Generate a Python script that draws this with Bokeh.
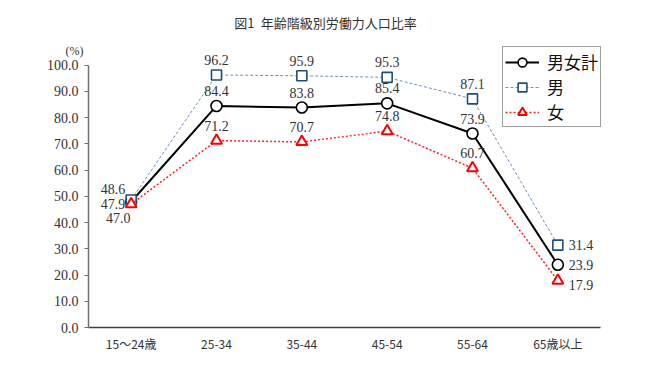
from bokeh.plotting import figure
from bokeh.models import (Range1d, FixedTicker, NumeralTickFormatter, Legend, LegendItem,
                          Label, ColumnDataSource)
from bokeh.core.properties import value
from bokeh.embed import file_html
from bokeh.resources import INLINE

categories = ["15～24歳", "25-34", "35-44", "45-54", "55-64", "65歳以上"]
total = [47.9, 84.4, 83.8, 85.4, 73.9, 23.9]
male = [48.6, 96.2, 95.9, 95.3, 87.1, 31.4]
female = [47.0, 71.2, 70.7, 74.8, 60.7, 17.9]
series_names = ["男女計", "男", "女"]
y_ticks = [0, 10, 20, 30, 40, 50, 60, 70, 80, 90, 100]

NUM_FONT = "Liberation Serif"
JP_FONT = "Noto Sans CJK JP"

xs = list(range(len(categories)))
n_cat = len(categories)
px_per_cat = 512 / n_cat

p = figure(width=634, height=354, output_backend="svg", toolbar_location=None,
           x_range=Range1d(-0.5, n_cat - 0.5 + 10 / px_per_cat),
           y_range=Range1d(0, 120),
           min_border_left=88, min_border_right=24, min_border_top=12, min_border_bottom=26)
p.outline_line_color = None
p.xgrid.visible = False
p.ygrid.visible = False
p.background_fill_color = "white"
p.border_fill_color = "white"

# axes
xa = p.xaxis[0]
xa.ticker = FixedTicker(ticks=xs)
xa.bounds = (-0.5, n_cat - 0.5)
xa.major_label_overrides = {i: c for i, c in enumerate(categories)}
xa.major_tick_out = 0
xa.major_tick_in = 0
xa.minor_tick_out = 0
xa.minor_tick_in = 0
xa.axis_line_color = "#404040"
xa.axis_line_width = 1.5
xa.major_label_standoff = 7
xa.major_label_text_font = JP_FONT
xa.major_label_text_font_size = "12px"
xa.major_label_text_color = "#333333"

ya = p.yaxis[0]
ya.bounds = (0, 100)
ya.ticker = FixedTicker(ticks=y_ticks)
ya.formatter = NumeralTickFormatter(format="0.0")
ya.major_tick_out = 4
ya.major_tick_in = 0
ya.minor_tick_out = 0
ya.minor_tick_in = 0
ya.axis_line_color = "#707070"
ya.axis_line_width = 1.5
ya.major_tick_line_color = "#707070"
ya.major_label_standoff = 6
ya.major_label_text_font = NUM_FONT
ya.major_label_text_font_size = "14px"
ya.major_label_text_color = "#333333"

# series
styles = [
    dict(vals=total, color="black", line_width=2, dash="solid", marker="circle",
         mcolor="black", msize=11, mlw=1.6),
    dict(vals=male, color="#6f8fc8", line_width=1, dash="3 2", marker="square",
         mcolor="#1f4e79", msize=10, mlw=1.6),
    dict(vals=female, color="#ff2020", line_width=1.5, dash="2 2", marker="triangle",
         mcolor="#ff0000", msize=11, mlw=2),
]

items = []
for name, st in zip(series_names, styles):
    src = ColumnDataSource(dict(x=xs, y=st["vals"]))
    ln = p.line("x", "y", source=src, line_color=st["color"], line_width=st["line_width"],
                line_dash=st["dash"])
    sc = p.scatter("x", "y", source=src, marker=st["marker"], size=st["msize"],
                   line_color=st["mcolor"], line_width=st["mlw"], fill_color="white")
    items.append(LegendItem(label=name, renderers=[ln, sc]))

# data labels: first point left, last point right, middle points above
def label_layout(series_idx, i, n):
    if i == n - 1:
        dy = [0, 0, 4][series_idx]
        return "left", 11, dy
    if i == 0:
        if series_idx == 0:
            return "right", -6, 2
        if series_idx == 1:
            return "right", -6, -11
        return "center", -13, 14
    return "center", 0, -15

for si, st in enumerate(styles):
    n = len(st["vals"])
    for align in ["left", "center", "right"]:
        lx, ly, lt, ox, oy = [], [], [], [], []
        for i, v in enumerate(st["vals"]):
            a, dx, dy = label_layout(si, i, n)
            if a != align:
                continue
            lx.append(i); ly.append(v); lt.append(f"{v:.1f}"); ox.append(dx); oy.append(dy)
        if not lx:
            continue
        p.text(x=lx, y=ly, text=lt, x_offset=ox, y_offset=oy, text_align=align,
               text_baseline="middle", text_font=value(NUM_FONT), text_font_size="14px",
               text_color="#333333")

legend = Legend(items=items, location=(414, 200))
legend.margin = 0
legend.padding = 2
legend.spacing = 0
legend.glyph_width = 34
legend.glyph_height = 22
legend.label_height = 22
legend.label_standoff = 8
legend.label_text_font = JP_FONT
legend.label_text_font_size = "17px"
legend.label_text_color = "#111111"
legend.border_line_color = "#404040"
legend.border_line_width = 1
legend.background_fill_color = "white"
legend.background_fill_alpha = 1
p.add_layout(legend)

p.add_layout(Label(x=237, y=305, x_units="screen", y_units="screen",
                   text="図1\u2002年齢階級別労働力人口比率", text_align="center",
                   text_baseline="middle", text_font=JP_FONT, text_font_size="13px",
                   text_color="#333333"))
p.add_layout(Label(x=49, y=277, x_units="screen", y_units="screen", text="(%)",
                   text_align="center", text_baseline="middle", text_font=NUM_FONT,
                   text_font_size="12px", text_color="#333333"), "left")

open("out.html", "w").write(file_html(p, INLINE))
